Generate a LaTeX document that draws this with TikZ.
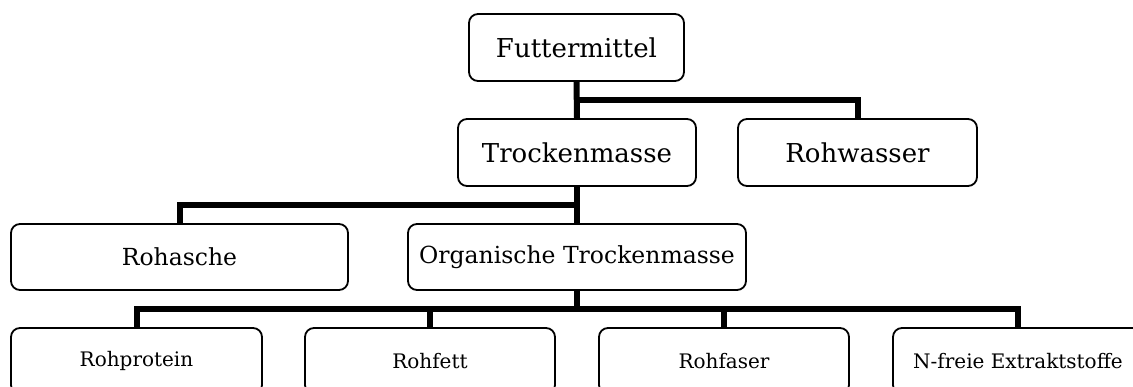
\documentclass[tikz,border=0pt]{standalone}
\usepackage{fontspec}
\setmainfont{DejaVu Serif}
\usetikzlibrary{calc}
\begin{document}
\begin{tikzpicture}[x=1pt,y=-1pt,
  box/.style={draw, line width=1.8pt, rounded corners=9pt, inner sep=0pt, align=center},
  conn/.style={line width=6pt},
  big/.style={font=\fontsize{26}{30}\selectfont},
  mid/.style={font=\fontsize{23.5}{27}\selectfont},
  small/.style={font=\fontsize{20}{24}\selectfont}]
\useasboundingbox (0,0) rectangle (1133,387);
\clip (0,0) rectangle (1133,387);
\node[box,big,minimum width=215pt,minimum height=67pt] (F) at (576.5,47.5) {Futtermittel};
\node[box,big,minimum width=238pt,minimum height=67pt] (T) at (577,152.5) {Trockenmasse};
\node[box,big,minimum width=239pt,minimum height=67pt] (W) at (857.5,152.5) {Rohwasser};
\node[box,mid,minimum width=337pt,minimum height=66pt] (A) at (179.5,257) {Rohasche};
\node[box,mid,minimum width=338pt,minimum height=66pt] (O) at (577,257) {Organische Trockenmasse};
\node[box,small,minimum width=251pt,minimum height=66pt] (P) at (136.5,361) {Rohprotein};
\node[box,small,minimum width=250pt,minimum height=66pt] (Fe) at (430,361) {Rohfett};
\node[box,small,minimum width=250pt,minimum height=66pt] (Fa) at (724,361) {Rohfaser};
\node[box,small,minimum width=250pt,minimum height=66pt] (N) at (1018,361) {N-freie Extraktstoffe};
% connectors
\draw[conn] (F.south) -- (T.north);
\coordinate (f1) at ($(F.south)!0.5!(T.north)$);
\draw[conn] (f1) -| (W.north);
\draw[conn] (T.south) -- (O.north);
\coordinate (t1) at ($(T.south)!0.5!(O.north)$);
\draw[conn] (t1) -| (A.north);
\coordinate (o1) at ($(O.south)!0.5!(O.south |- P.north)$);
\draw[conn] (O.south) -- (o1);
\draw[conn] (P.north) |- (o1) -| (N.north);
\draw[conn] (Fe.north) -- (Fe.north |- o1);
\draw[conn] (Fa.north) -- (Fa.north |- o1);
\end{tikzpicture}
\end{document}
